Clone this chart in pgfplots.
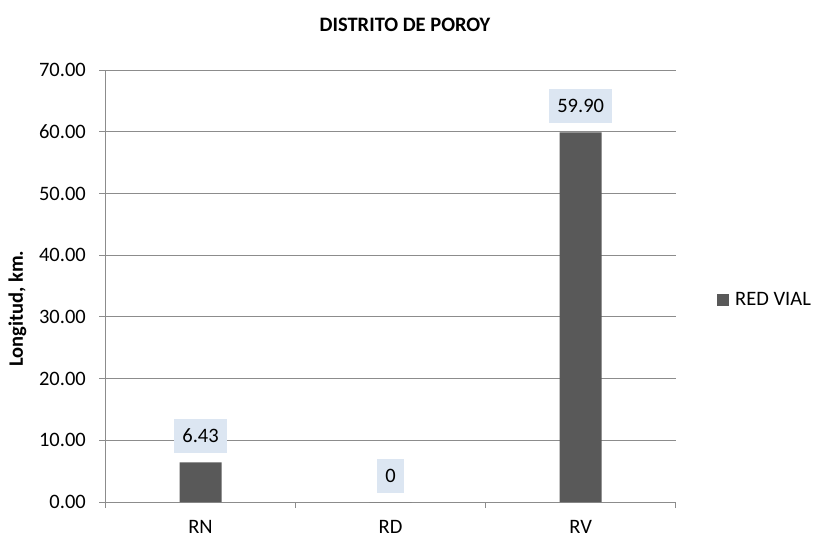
\documentclass[border=0pt]{standalone}
\usepackage{fontspec}
\setmainfont{Carlito}
\usepackage{pgfplots}
\pgfplotsset{compat=1.18}
\definecolor{barcol}{HTML}{595959}
\definecolor{lblbg}{HTML}{DCE6F2}
\definecolor{gridcol}{HTML}{8C8C8C}
\newcommand{\chartfont}{\fontsize{20.5bp}{24bp}\selectfont}

\begin{document}
\chartfont
\begin{tikzpicture}
\begin{axis}[
    scale only axis,
    width=570.2bp, height=432bp,
    xmin=-0.5, xmax=2.5,
    ymin=0, ymax=70,
    xtick={0,1,2},
    xticklabels={RN,RD,RV},
    minor xtick={-0.5,0.5,1.5,2.5},
    ytick={0,10,...,70},
    axis x line*=bottom,
    axis y line*=left,
    axis line style={draw=gridcol, line width=1bp, -},
    tick align=outside,
    major tick length=6bp,
    minor tick length=6bp,
    major x tick style={draw=none},
    minor x tick style={draw=gridcol, line width=1bp},
    ytick style={draw=gridcol, line width=1bp},
    ymajorgrids=true,
    grid style={draw=gridcol, line width=1bp},
    tick label style={font=\chartfont},
    yticklabel style={anchor=east, inner sep=0pt, xshift=-13.5bp},
    xticklabel style={anchor=base, inner sep=0pt, yshift=-25bp},
    y tick label style={/pgf/number format/.cd, fixed, fixed zerofill, precision=2, assume math mode=true},
    title={\bfseries DISTRITO DE POROY},
    title style={at={(0.5253,1.075)}, anchor=base, inner sep=0pt, font=\chartfont},
    ylabel={\bfseries Longitud, km.},
    ylabel style={at={(axis description cs:-0.1543,0.447)}, anchor=center, inner sep=0pt, font=\chartfont},
    legend style={at={(1.0725,0.4676)}, anchor=west, draw=none, fill=none, inner sep=0pt,
        nodes={inner sep=0pt, font=\chartfont},
        /tikz/every odd column/.append style={column sep=6bp}},
    legend image code/.code={\fill[barcol] (0bp,-6bp) rectangle (12bp,6bp);},
    point meta=explicit symbolic,
    nodes near coords={\pgfplotspointmeta},
    every node near coord/.append style={fill=lblbg, inner xsep=8bp, inner ysep=0pt,
        minimum height=34bp, anchor=south, yshift=9bp, text=black, font=\chartfont},
]
\addplot[ybar, bar width=42bp, fill=barcol, draw=none] coordinates {
    (0,6.43) [6.43]
    (1,0) [0]
    (2,59.90) [59.90]
};
\legend{RED VIAL}
\end{axis}
\pgfresetboundingbox
\path (-105.5bp,-35bp) rectangle (707.5bp,502bp);
\end{tikzpicture}
\end{document}
